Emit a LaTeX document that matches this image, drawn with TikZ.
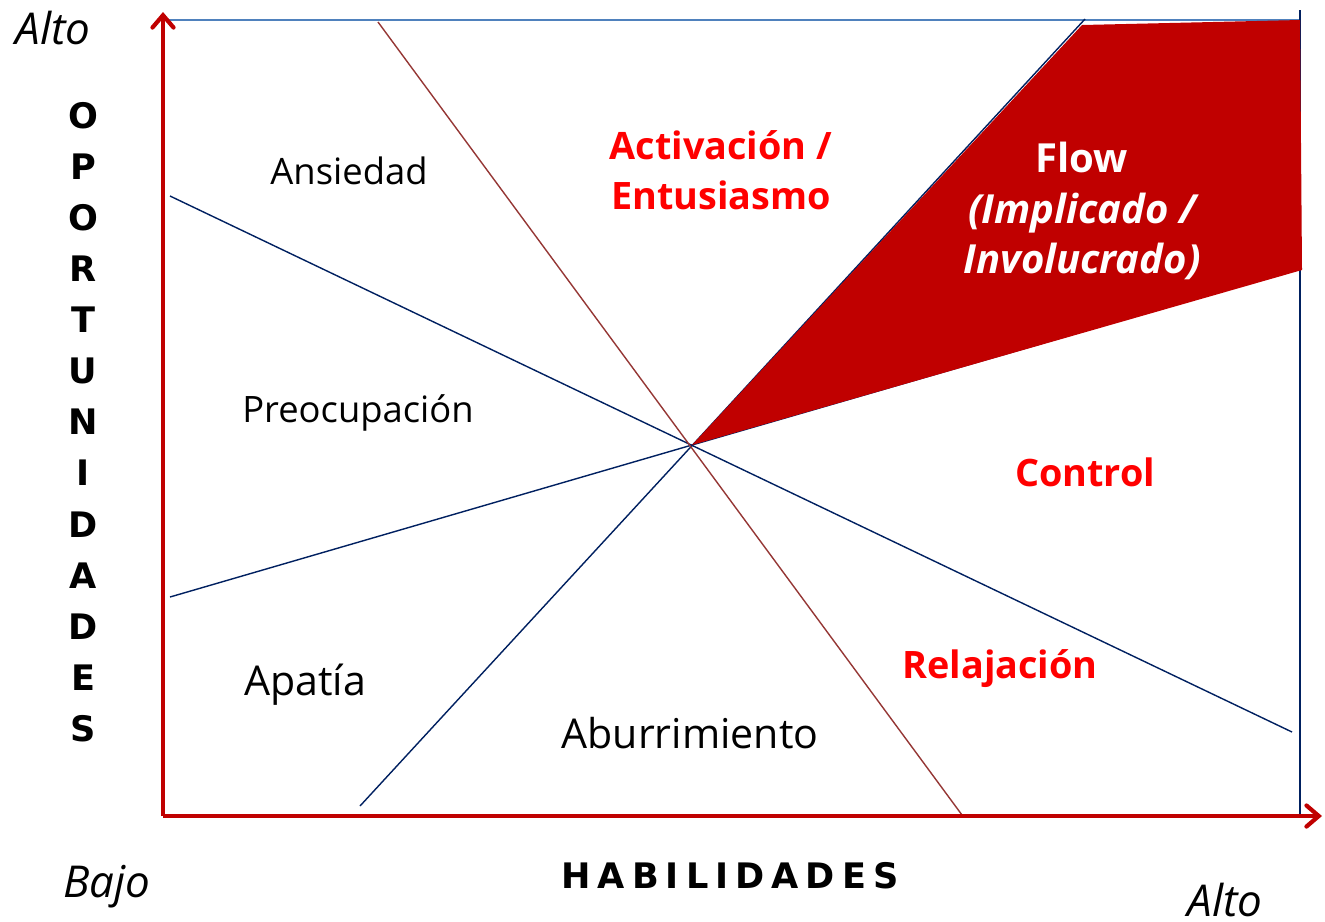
\documentclass[tikz,border=0pt]{standalone}
\usepackage{fontspec}
\setmainfont{Open Sans}
\newfontfamily\titlefont{DejaVu Sans}
\usetikzlibrary{arrows.meta}
\definecolor{axisred}{HTML}{C00000}
\definecolor{txtred}{HTML}{FF0000}
\definecolor{navy}{HTML}{002060}
\definecolor{brownline}{HTML}{953735}
\definecolor{lightblue}{HTML}{4F81BD}
\tikzset{
  axis/.style={draw=axisred, line width=2.4pt, -{Straight Barb[length=7pt,width=12pt,line width=2.4pt, line cap=round]}},
  navyline/.style={draw=navy, line width=0.8pt},
  brline/.style={draw=brownline, line width=0.8pt},
  zone/.style={font=\fontsize{20.7}{24}\selectfont, text=black, inner sep=0pt},
  bigzone/.style={font=\fontsize{23.4}{26}\selectfont, text=black, inner sep=0pt},
  redlbl/.style={font=\bfseries\fontsize{21.5}{28.3}\selectfont, text=txtred, inner sep=0pt},
  flowlbl/.style={font=\bfseries\fontsize{22.8}{28.9}\selectfont, text=white, inner sep=0pt},
  corner/.style={font=\itshape\fontsize{25}{28}\selectfont, inner sep=0pt},
  vert/.style={font=\titlefont\bfseries\fontsize{20}{29.1}\selectfont, inner sep=0pt}
}
\begin{document}
\begin{tikzpicture}[x=0.02cm,y=-0.02cm]
\useasboundingbox (0,0) rectangle (1325,921);
% key points
\coordinate (O) at (163,816);
\coordinate (ytip) at (163,12);
\coordinate (xtip) at (1322,816);
\coordinate (C) at (692,445);
\coordinate (tl) at (163,20);
\coordinate (tr) at (1300,20);
\coordinate (rt) at (1300,10);
\coordinate (rb) at (1300,816);
\coordinate (b1a) at (170,196);
\coordinate (b1b) at (1292,732);
\coordinate (b2a) at (170,597);
\coordinate (b2b) at (1302,268);
\coordinate (b3a) at (360,806);
\coordinate (b3b) at (1085,19);
\coordinate (br1) at (378,22);
\coordinate (br2) at (962,815);
\coordinate (f1) at (1082,25);
\coordinate (f2) at (1300,20);
\coordinate (f3) at (1302,270);
% frame lines
\draw[lightblue, line width=0.8pt] (tl) -- (tr);
\draw[navyline] (rt) -- (rb);
% diagonals
\draw[navyline] (b1a) -- (b1b);
\draw[navyline] (b2a) -- (C);
\draw[navyline] (C) -- (b2b);
\draw[navyline] (b3a) -- (b3b);
\draw[brline] (br1) -- (br2);
% flow region (on top of the lines)
\fill[axisred] (C) -- (f1) -- (f2) -- (f3) -- cycle;
% axes
\draw[axis] (O) -- (ytip);
\draw[axis] (O) -- (xtip);
% zone labels
\node[zone] (ans) at (349,171) {Ansiedad};
\node[zone] (pre) at (358,413) {Preocupación};
\node[bigzone] (apa) at (305,685) {Apatía};
\node[bigzone] (abu) at (690,733) {Aburrimiento};
\node[redlbl, align=center] (act) at (721,170) {Activación /\\Entusiasmo};
\node[redlbl] (con) at (1085,472) {Control};
\node[redlbl] (rel) at (1000,669) {Relajación};
\node[flowlbl, align=center] (flow) at (1082,211) {Flow\\\itshape (Implicado /\\\itshape Involucrado)};
% corners
\node[corner] (alto1) at (53,28) {Alto};
\node[corner] (bajo) at (107,887) {Bajo};
\node[corner] (alto2) at (1225,900) {Alto};
% axis titles
\node[vert, align=center] (opor) at (83,422) {O\\P\\O\\R\\T\\U\\N\\I\\D\\A\\D\\E\\S};
\node[vert] (hab) at (730,876) {H\hspace{4pt}A\hspace{4pt}B\hspace{4pt}I\hspace{4pt}L\hspace{4pt}I\hspace{4pt}D\hspace{4pt}A\hspace{4pt}D\hspace{4pt}E\hspace{4pt}S};
\end{tikzpicture}
\end{document}
